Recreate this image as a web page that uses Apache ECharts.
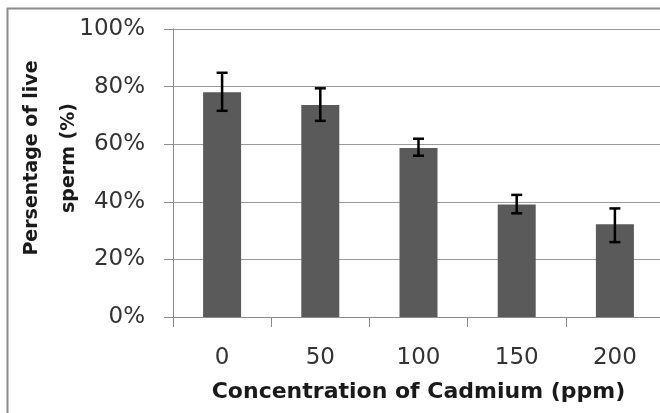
<!DOCTYPE html>
<html><head><meta charset="utf-8">
<script src="https://cdn.jsdelivr.net/npm/echarts@6/dist/echarts.min.js"></script>
<style>html,body{margin:0;padding:0;background:#fff}#c{width:660px;height:413px}</style>
</head><body><div id="c"></div>
<script>
const categories = ['0', '50', '100', '150', '200'];
const liveSperm = [78.0, 73.6, 58.7, 39.1, 32.2];
const errorLow = [71.6, 68.1, 56.0, 36.0, 26.0];
const errorHigh = [84.8, 79.4, 61.9, 42.4, 37.7];
const yTicks = [0, 20, 40, 60, 80, 100];

const FONT = '"DejaVu Sans", "Open Sans", sans-serif';
const chart = echarts.init(document.getElementById('c'));
const errData = categories.map((c, i) => [i, errorLow[i], errorHigh[i]]);
chart.setOption({
  animation: false,
  backgroundColor: '#fff',
  graphic: [{
    type: 'rect', shape: {x: 7.5, y: 8.5, width: 700, height: 460},
    style: {fill: 'none', stroke: '#8c8c8c', lineWidth: 2}, z: -10
  }],
  grid: {left: 173, top: 29, bottom: 96, right: -4, outerBoundsMode: 'none', containLabel: false},
  xAxis: {
    type: 'category', data: categories,
    name: 'Concentration of Cadmium (ppm)', nameLocation: 'middle', nameGap: 64, nameMoveOverlap: false,
    nameTextStyle: {fontFamily: FONT, fontWeight: 'bold', fontSize: 22, color: '#1a1a1a'},
    axisLine: {lineStyle: {color: '#8c8c8c', width: 1}},
    axisTick: {show: true, length: 10, lineStyle: {color: '#8c8c8c'}},
    axisLabel: {fontFamily: FONT, fontSize: 23, color: '#333', margin: 30}
  },
  yAxis: {
    type: 'value', min: 0, max: 100, interval: 20,
    name: 'Persentage of live\nsperm (%)', nameLocation: 'middle', nameGap: 85, nameMoveOverlap: false,
    nameTextStyle: {fontFamily: FONT, fontWeight: 'bold', fontSize: 19, color: '#1a1a1a', lineHeight: 37,
      padding: [0, 0, 0, 30]},
    axisLine: {show: true, lineStyle: {color: '#8c8c8c', width: 1}},
    axisTick: {show: true, length: 9, lineStyle: {color: '#8c8c8c'}},
    splitLine: {lineStyle: {color: '#9a9a9a', width: 1}},
    axisLabel: {fontFamily: FONT, fontSize: 23, color: '#333', margin: 28,
      formatter: v => yTicks.includes(v) ? v + '%' : ''}
  },
  series: [{
    type: 'bar', data: liveSperm, barWidth: 38,
    itemStyle: {color: '#5a5a5a'}
  }, {
    type: 'custom', data: errData, z: 10,
    renderItem: (params, api) => {
      const x = api.value(0);
      const lo = api.coord([x, api.value(1)]);
      const hi = api.coord([x, api.value(2)]);
      const hw = 5.5;
      const st = {stroke: '#000', lineWidth: 2.5};
      return {type: 'group', children: [
        {type: 'line', shape: {x1: lo[0], y1: lo[1], x2: hi[0], y2: hi[1]}, style: st},
        {type: 'line', shape: {x1: lo[0]-hw, y1: lo[1], x2: lo[0]+hw, y2: lo[1]}, style: st},
        {type: 'line', shape: {x1: hi[0]-hw, y1: hi[1], x2: hi[0]+hw, y2: hi[1]}, style: st}
      ]};
    }
  }]
});
</script></body></html>
